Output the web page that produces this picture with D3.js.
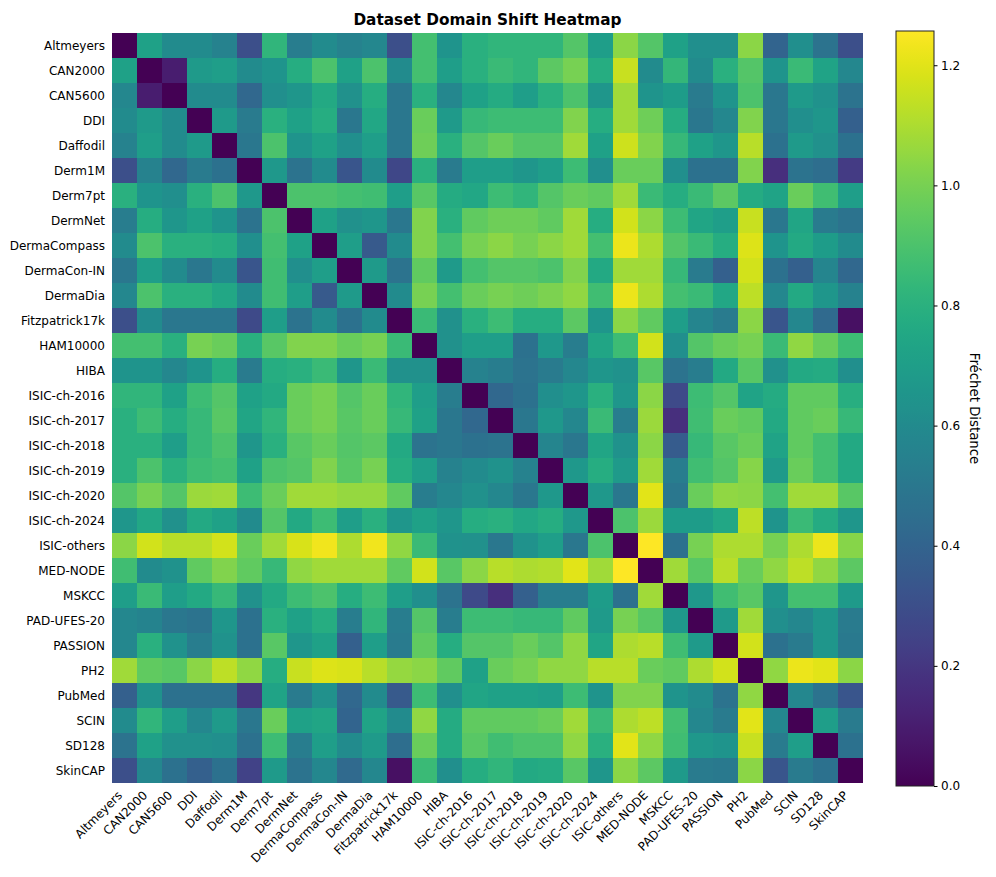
<!DOCTYPE html>
<html>
<head>
<meta charset="utf-8">
<script src="https://cdn.jsdelivr.net/npm/d3@7"></script>
<style>
  body { margin: 0; background: #fff; }
  svg { display: block; font-family: "DejaVu Sans", sans-serif; }
</style>
</head>
<body>
<svg id="chart" width="996" height="877"></svg>
<script>
// dataset names (rows and columns)
let datasets = ["Altmeyers", "CAN2000", "CAN5600", "DDI", "Daffodil", "Derm1M", "Derm7pt", "DermNet",
  "DermaCompass", "DermaCon-IN", "DermaDia", "Fitzpatrick17k", "HAM10000", "HIBA", "ISIC-ch-2016",
  "ISIC-ch-2017", "ISIC-ch-2018", "ISIC-ch-2019", "ISIC-ch-2020", "ISIC-ch-2024", "ISIC-others",
  "MED-NODE", "MSKCC", "PAD-UFES-20", "PASSION", "PH2", "PubMed", "SCIN", "SD128", "SkinCAP"];

// Fréchet distance, one row per dataset
let distances = [
  [0, 0.72, 0.6, 0.6, 0.55, 0.3, 0.82, 0.53, 0.6, 0.55, 0.58, 0.3, 0.88, 0.65, 0.8, 0.82, 0.82, 0.82, 0.92, 0.7, 1.04, 0.92, 0.72, 0.62, 0.62, 1.04, 0.4, 0.62, 0.48, 0.3],
  [0.72, 0, 0.1, 0.68, 0.7, 0.6, 0.65, 0.78, 0.9, 0.72, 0.9, 0.6, 0.88, 0.7, 0.8, 0.85, 0.82, 0.94, 1.0, 0.78, 1.15, 0.6, 0.83, 0.6, 0.8, 0.92, 0.65, 0.85, 0.73, 0.58],
  [0.58, 0.1, 0, 0.6, 0.6, 0.42, 0.62, 0.66, 0.76, 0.63, 0.78, 0.5, 0.8, 0.58, 0.72, 0.77, 0.7, 0.8, 0.9, 0.66, 1.08, 0.65, 0.69, 0.52, 0.65, 0.9, 0.5, 0.68, 0.64, 0.48],
  [0.6, 0.68, 0.6, 0, 0.68, 0.52, 0.8, 0.72, 0.78, 0.5, 0.75, 0.5, 0.97, 0.68, 0.84, 0.86, 0.86, 0.86, 1.02, 0.78, 1.08, 0.98, 0.78, 0.5, 0.58, 1.02, 0.5, 0.62, 0.66, 0.38],
  [0.55, 0.7, 0.6, 0.68, 0, 0.5, 0.9, 0.65, 0.72, 0.62, 0.7, 0.5, 0.98, 0.8, 0.92, 0.97, 0.92, 0.92, 1.08, 0.72, 1.16, 1.02, 0.84, 0.72, 0.66, 1.12, 0.47, 0.68, 0.63, 0.47],
  [0.3, 0.55, 0.42, 0.52, 0.47, 0, 0.67, 0.48, 0.6, 0.33, 0.6, 0.27, 0.8, 0.52, 0.7, 0.7, 0.66, 0.7, 0.86, 0.62, 0.97, 0.97, 0.62, 0.47, 0.47, 1.02, 0.17, 0.48, 0.45, 0.22],
  [0.8, 0.65, 0.62, 0.8, 0.9, 0.67, 0, 0.9, 0.9, 0.88, 0.87, 0.7, 0.93, 0.77, 0.75, 0.86, 0.82, 0.92, 0.97, 0.95, 1.08, 0.85, 0.78, 0.85, 0.94, 0.77, 0.73, 0.97, 0.87, 0.7],
  [0.53, 0.78, 0.66, 0.72, 0.65, 0.48, 0.9, 0, 0.72, 0.63, 0.66, 0.5, 1.02, 0.8, 0.95, 0.98, 0.98, 0.95, 1.08, 0.78, 1.17, 1.04, 0.86, 0.74, 0.7, 1.15, 0.5, 0.74, 0.52, 0.48],
  [0.6, 0.9, 0.8, 0.8, 0.78, 0.62, 0.88, 0.72, 0, 0.7, 0.35, 0.6, 1.02, 0.88, 1.0, 1.04, 1.0, 1.04, 1.08, 0.88, 1.22, 1.1, 0.92, 0.85, 0.78, 1.19, 0.65, 0.76, 0.69, 0.6],
  [0.5, 0.7, 0.6, 0.5, 0.6, 0.33, 0.87, 0.62, 0.7, 0, 0.68, 0.48, 0.95, 0.68, 0.88, 0.92, 0.92, 0.9, 1.02, 0.76, 1.08, 1.08, 0.84, 0.52, 0.38, 1.17, 0.47, 0.38, 0.57, 0.42],
  [0.58, 0.9, 0.8, 0.8, 0.75, 0.6, 0.87, 0.7, 0.35, 0.68, 0, 0.6, 1.0, 0.88, 0.97, 1.0, 0.98, 1.01, 1.05, 0.87, 1.22, 1.1, 0.88, 0.85, 0.75, 1.13, 0.58, 0.76, 0.66, 0.55],
  [0.3, 0.6, 0.5, 0.5, 0.5, 0.28, 0.7, 0.48, 0.6, 0.47, 0.6, 0, 0.85, 0.63, 0.8, 0.86, 0.78, 0.78, 0.94, 0.66, 1.04, 0.95, 0.7, 0.57, 0.52, 1.04, 0.33, 0.58, 0.43, 0.05],
  [0.88, 0.88, 0.8, 1.0, 0.97, 0.8, 0.93, 1.02, 1.02, 0.97, 1.0, 0.85, 0, 0.63, 0.7, 0.7, 0.47, 0.67, 0.53, 0.74, 0.86, 1.17, 0.62, 0.92, 0.97, 1.0, 0.85, 1.05, 0.97, 0.86],
  [0.65, 0.65, 0.58, 0.65, 0.78, 0.52, 0.78, 0.8, 0.85, 0.66, 0.85, 0.63, 0.63, 0, 0.55, 0.53, 0.48, 0.52, 0.58, 0.66, 0.64, 0.93, 0.48, 0.53, 0.76, 0.93, 0.63, 0.76, 0.77, 0.62],
  [0.82, 0.82, 0.72, 0.86, 0.92, 0.72, 0.76, 0.97, 1.0, 0.92, 0.97, 0.82, 0.7, 0.53, 0, 0.42, 0.47, 0.62, 0.66, 0.8, 0.66, 1.04, 0.28, 0.86, 0.92, 0.73, 0.77, 0.95, 0.95, 0.79],
  [0.8, 0.86, 0.78, 0.84, 0.93, 0.74, 0.82, 0.97, 1.0, 0.93, 0.97, 0.84, 0.72, 0.5, 0.42, 0, 0.5, 0.67, 0.58, 0.85, 0.53, 1.07, 0.17, 0.87, 0.97, 0.95, 0.76, 0.95, 0.97, 0.84],
  [0.8, 0.8, 0.7, 0.84, 0.9, 0.66, 0.8, 0.93, 0.97, 0.92, 0.94, 0.76, 0.48, 0.5, 0.47, 0.48, 0, 0.57, 0.5, 0.74, 0.64, 1.04, 0.36, 0.84, 0.93, 0.97, 0.73, 0.95, 0.88, 0.76],
  [0.8, 0.9, 0.8, 0.86, 0.88, 0.72, 0.9, 0.92, 1.02, 0.93, 1.0, 0.78, 0.7, 0.55, 0.6, 0.64, 0.55, 0, 0.67, 0.78, 0.68, 1.08, 0.53, 0.87, 0.92, 1.03, 0.68, 0.97, 0.88, 0.76],
  [0.92, 1.0, 0.92, 1.07, 1.08, 0.86, 0.97, 1.08, 1.08, 1.06, 1.06, 0.95, 0.53, 0.58, 0.63, 0.58, 0.5, 0.67, 0, 0.67, 0.5, 1.2, 0.5, 0.97, 1.05, 1.04, 0.88, 1.08, 1.08, 0.93],
  [0.66, 0.75, 0.63, 0.76, 0.72, 0.6, 0.92, 0.76, 0.86, 0.7, 0.8, 0.66, 0.72, 0.66, 0.78, 0.8, 0.75, 0.78, 0.67, 0, 0.9, 1.07, 0.69, 0.69, 0.75, 1.13, 0.65, 0.85, 0.77, 0.66],
  [1.04, 1.17, 1.12, 1.12, 1.17, 0.97, 1.08, 1.18, 1.23, 1.1, 1.23, 1.05, 0.85, 0.64, 0.63, 0.5, 0.64, 0.7, 0.5, 0.9, 0, 1.257, 0.47, 1.0, 1.1, 1.1, 1.0, 1.1, 1.22, 1.03],
  [0.87, 0.6, 0.64, 0.95, 1.02, 0.95, 0.84, 1.05, 1.08, 1.08, 1.08, 0.95, 1.17, 0.93, 1.04, 1.12, 1.1, 1.11, 1.2, 1.08, 1.257, 0, 1.08, 0.93, 1.12, 0.97, 1.05, 1.13, 1.05, 0.94],
  [0.7, 0.85, 0.7, 0.76, 0.84, 0.63, 0.76, 0.86, 0.9, 0.78, 0.86, 0.7, 0.62, 0.48, 0.28, 0.17, 0.38, 0.53, 0.53, 0.69, 0.47, 1.08, 0, 0.67, 0.87, 0.93, 0.66, 0.88, 0.88, 0.68],
  [0.58, 0.56, 0.5, 0.48, 0.66, 0.47, 0.8, 0.72, 0.78, 0.53, 0.82, 0.53, 0.92, 0.53, 0.86, 0.86, 0.84, 0.84, 0.95, 0.68, 1.0, 0.93, 0.67, 0, 0.68, 1.08, 0.62, 0.58, 0.66, 0.52],
  [0.58, 0.8, 0.64, 0.53, 0.64, 0.47, 0.93, 0.66, 0.72, 0.38, 0.7, 0.52, 0.95, 0.78, 0.92, 0.92, 0.97, 0.92, 1.05, 0.74, 1.1, 1.12, 0.87, 0.68, 0, 1.17, 0.47, 0.52, 0.66, 0.51],
  [1.08, 0.95, 0.93, 1.04, 1.13, 1.05, 0.78, 1.15, 1.19, 1.18, 1.12, 1.06, 1.04, 0.95, 0.72, 0.97, 1.0, 1.05, 1.05, 1.12, 1.12, 0.97, 0.95, 1.1, 1.17, 0, 1.05, 1.22, 1.2, 1.04],
  [0.38, 0.64, 0.47, 0.47, 0.47, 0.2, 0.73, 0.52, 0.63, 0.42, 0.6, 0.35, 0.86, 0.62, 0.74, 0.72, 0.72, 0.7, 0.86, 0.65, 1.02, 1.02, 0.65, 0.6, 0.48, 1.05, 0, 0.58, 0.48, 0.33],
  [0.6, 0.82, 0.7, 0.58, 0.68, 0.5, 0.97, 0.72, 0.74, 0.4, 0.73, 0.6, 1.05, 0.77, 0.95, 0.95, 0.95, 0.97, 1.08, 0.85, 1.1, 1.13, 0.88, 0.58, 0.52, 1.2, 0.58, 0, 0.7, 0.52],
  [0.48, 0.72, 0.63, 0.63, 0.62, 0.47, 0.86, 0.53, 0.7, 0.6, 0.68, 0.45, 0.97, 0.77, 0.93, 0.87, 0.9, 0.9, 1.05, 0.8, 1.2, 1.05, 0.87, 0.67, 0.65, 1.15, 0.52, 0.7, 0, 0.47],
  [0.3, 0.58, 0.47, 0.38, 0.47, 0.25, 0.68, 0.48, 0.58, 0.43, 0.58, 0.05, 0.85, 0.62, 0.78, 0.82, 0.76, 0.77, 0.93, 0.66, 1.04, 0.94, 0.68, 0.52, 0.51, 1.04, 0.33, 0.52, 0.47, 0]
];

let colorbarTicks = [0.0, 0.2, 0.4, 0.6, 0.8, 1.0, 1.2];
let valueMax = 1.257;

let svg = d3.select("#chart");

// heatmap frame
let hm = { left: 112, top: 33, width: 751, height: 750 };
let cb = { left: 896, top: 31, width: 38, height: 755 };

let xScale = d3.scaleBand().domain(datasets).range([hm.left, hm.left + hm.width]);
let yScale = d3.scaleBand().domain(datasets).range([hm.top, hm.top + hm.height]);
let color = d3.scaleSequential(d3.interpolateViridis).domain([0, valueMax]);

// flatten to cells
let cells = [];
distances.forEach((row, i) => {
  row.forEach((v, j) => cells.push({ row: datasets[i], col: datasets[j], value: v }));
});

svg.append("g")
  .selectAll("rect")
  .data(cells)
  .enter()
  .append("rect")
  .attr("x", d => xScale(d.col))
  .attr("y", d => yScale(d.row))
  .attr("width", xScale.bandwidth() + 0.4)
  .attr("height", yScale.bandwidth() + 0.4)
  .attr("fill", d => color(d.value))
  .attr("shape-rendering", "crispEdges");

// y labels
svg.append("g")
  .selectAll("text")
  .data(datasets)
  .enter()
  .append("text")
  .attr("x", hm.left - 7)
  .attr("y", d => yScale(d) + yScale.bandwidth() / 2)
  .attr("dy", "0.35em")
  .attr("text-anchor", "end")
  .style("font-size", "12px")
  .attr("fill", "#000")
  .text(d => d);

// x labels, rotated 45
svg.append("g")
  .selectAll("text")
  .data(datasets)
  .enter()
  .append("text")
  .attr("transform", d => `translate(${xScale(d) + xScale.bandwidth() / 2 - 1.5},${hm.top + hm.height + 13}) rotate(-45)`)
  .attr("text-anchor", "end")
  .style("font-size", "12px")
  .attr("fill", "#000")
  .text(d => d);

// title
svg.append("text")
  .attr("x", hm.left + hm.width / 2)
  .attr("y", 25)
  .attr("text-anchor", "middle")
  .style("font-size", "15.3px")
  .style("font-weight", "bold")
  .text("Dataset Domain Shift Heatmap");

// colorbar
let grad = svg.append("defs").append("linearGradient")
  .attr("id", "cbGrad")
  .attr("x1", 0).attr("y1", 1).attr("x2", 0).attr("y2", 0);
d3.range(0, 1.0001, 0.02).forEach(t => {
  grad.append("stop").attr("offset", t).attr("stop-color", d3.interpolateViridis(t));
});

svg.append("rect")
  .attr("x", cb.left)
  .attr("y", cb.top)
  .attr("width", cb.width)
  .attr("height", cb.height)
  .attr("fill", "url(#cbGrad)")
  .attr("stroke", "#222")
  .attr("stroke-width", 1);

let cbScale = d3.scaleLinear().domain([0, valueMax]).range([cb.top + cb.height, cb.top]);
let cbAxis = d3.axisRight(cbScale)
  .tickValues(colorbarTicks)
  .tickFormat(d3.format(".1f"))
  .tickSize(3.5)
  .tickPadding(3.5);

let cbG = svg.append("g")
  .attr("transform", `translate(${cb.left + cb.width},0)`)
  .call(cbAxis);
cbG.select(".domain").remove();
cbG.selectAll("text")
  .style("font-size", "12px")
  .style("font-family", "DejaVu Sans, sans-serif")
  .attr("fill", "#000");
cbG.selectAll("line").attr("stroke", "#000");

svg.append("text")
  .attr("transform", `translate(${975},${cb.top + cb.height / 2}) rotate(90)`)
  .attr("text-anchor", "middle")
  .attr("dy", "0.35em")
  .style("font-size", "13.3px")
  .text("Fréchet Distance");
</script>
</body>
</html>
